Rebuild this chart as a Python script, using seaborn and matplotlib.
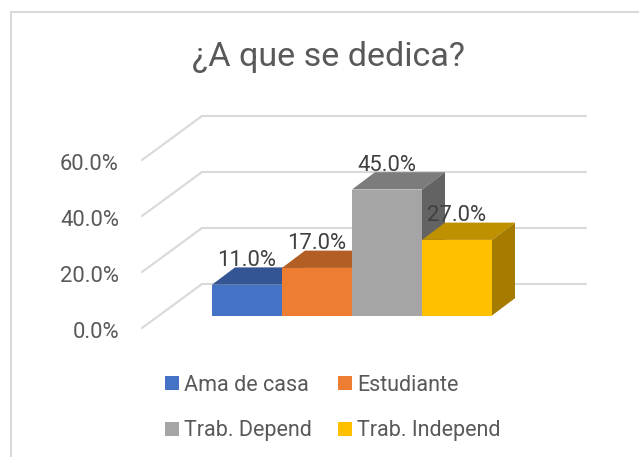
import matplotlib
matplotlib.use('Agg')
import matplotlib.pyplot as plt
from matplotlib.patches import Polygon, Rectangle
import seaborn as sns
import pandas as pd

# values
categories = ['Ama de casa', 'Estudiante', 'Trab. Depend', 'Trab. Independ']
values = [11.0, 17.0, 45.0, 27.0]
front_colors = ['#4472C4', '#ED7D31', '#A5A5A5', '#FFC000']
top_colors = ['#335593', '#B25E24', '#7C7C7C', '#BF9000']
side_colors = ['#294475', '#8E4B1D', '#636363', '#A67C00']
y_ticks = [0, 20, 40, 60]

W, H = 639, 457
PX_X = 70.0    # pixels per category
PX_Y = 2.8     # pixels per percent
BASE_X, BASE_Y = 247, 315.5   # centre of the first bar, foot of the bars
DX, DY = 23 / PX_X, 17.3 / PX_Y   # depth of the bars

sns.set_theme(style='white')
plt.rcParams['font.family'] = ['Roboto', 'DejaVu Sans']

df = pd.DataFrame({'categoria': categories, 'valor': values})

fig = plt.figure(figsize=(W / 100, H / 100), dpi=100)
ax = fig.add_axes([0, 0, 1, 1])
sns.barplot(data=df, x='categoria', y='valor', hue='categoria', palette=front_colors,
            width=1, dodge=False, saturation=1, ax=ax, zorder=3, linewidth=0, edgecolor='none')
ax.set_xlim((0 - BASE_X) / PX_X, (W - BASE_X) / PX_X)
ax.set_ylim((BASE_Y - H) / PX_Y, BASE_Y / PX_Y)
ax.axis('off')


def to_x(px):
    return (px - BASE_X) / PX_X


def to_y(py):
    return (BASE_Y - py) / PX_Y


# walls: one bent line per tick
for t in y_ticks:
    front_y = t + to_y(328)
    back_y = t + to_y(284)
    ax.plot([to_x(142), to_x(202), to_x(586)], [front_y, back_y, back_y],
            color='#D9D9D9', lw=1.5, zorder=1, solid_joinstyle='miter')
    ax.text(to_x(119), front_y - 5 / PX_Y, f'{t:.1f}%', ha='right', va='center',
            fontsize=15.8, color='#595959')

# extrude every bar seaborn drew
bars = [c[0] for c in ax.containers]
for bar, top_c, side_c, val in zip(bars, top_colors, side_colors, values):
    x0, x1 = bar.get_x(), bar.get_x() + bar.get_width()
    h = bar.get_height()
    ax.add_patch(Polygon([(x0, h), (x1, h), (x1 + DX, h + DY), (x0 + DX, h + DY)],
                         facecolor=top_c, edgecolor='none', zorder=2))
    ax.add_patch(Polygon([(x1, 0), (x1, h), (x1 + DX, h + DY), (x1 + DX, DY)],
                         facecolor=side_c, edgecolor='none', zorder=2))
    ax.text((x0 + x1) / 2, h + 24 / PX_Y, f'{val:.1f}%', ha='center', va='center',
            fontsize=15.8, color='#404040', zorder=6)

# legend goes column by column, the original reads row by row
order = [0, 2, 1, 3]
ax.legend([bars[i] for i in order], [categories[i] for i in order], ncols=2, frameon=False,
          loc='center', bbox_to_anchor=(333 / W, 1 - 408 / H), bbox_transform=fig.transFigure,
          fontsize=15.5, labelcolor='#595959', handlelength=0.65, handleheight=0.65,
          handletextpad=0.25, columnspacing=1.2, labelspacing=1.15)

fig.text(328 / W, 1 - 57 / H, '¿A que se dedica?', ha='center', va='center',
         fontsize=24.6, color='#595959')

# chart frame runs off the picture on the right and at the bottom
fig.add_artist(Rectangle((10.5 / W, -0.05), 1.1, 1.05 - 11.5 / H, transform=fig.transFigure,
                         facecolor='none', edgecolor='#D9D9D9', lw=1.5))

fig.savefig('out.png', dpi=100)
